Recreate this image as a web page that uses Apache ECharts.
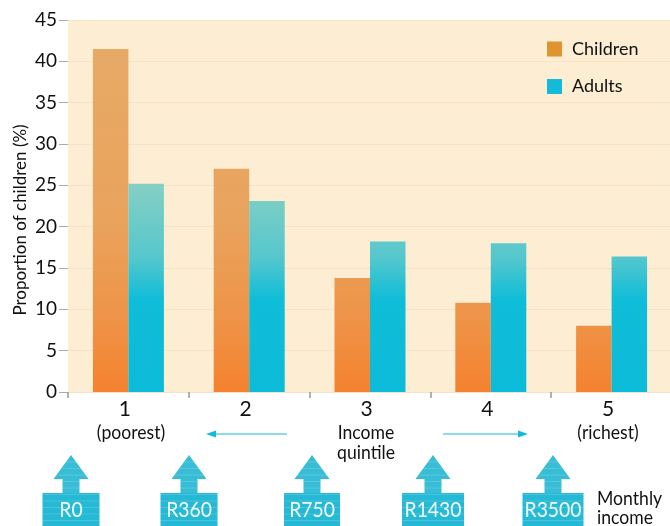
<!DOCTYPE html>
<html><head><meta charset="utf-8">
<style>html,body{margin:0;padding:0;background:#fff}#c{width:670px;height:526px}</style>
<script src="https://cdn.jsdelivr.net/npm/echarts@6/dist/echarts.min.js"></script>
</head><body><div id="c"></div>
<script>
const quintiles = ['1','2','3','4','5'];
const children = [41.5, 27, 13.8, 10.8, 8];
const adults = [25.2, 23.1, 18.2, 18, 16.4];
const yTicks = [0,5,10,15,20,25,30,35,40,45];
const incomes = ['R0','R360','R750','R1430','R3500'];
const FONT = 'Lato,"Liberation Sans",sans-serif';
const arrowX = [71,189,312,433,553];
const boxW = [57,57,56,62,61];

const chart = echarts.init(document.getElementById('c'), null, {renderer:'canvas'});
const grad = (y0,y1,stops)=>({type:'linear',global:true,x:0,y:y0,x2:0,y2:y1,
  colorStops:stops.map(s=>({offset:s[0],color:s[1]}))});

const graphics = [];
const LBL = {fill:'#111',font:'20px '+FONT};
function text(x,y,t,align){graphics.push({type:'text',x,y,scaleX:0.88,style:{text:t,...LBL,align:align||'center',verticalAlign:'middle'}});}
text(131,433,'(poorest)');
text(608,433,'(richest)');
text(366,433,'Income');
text(366,453,'quintile');
text(597,499,'Monthly','left');
text(597,518,'income','left');
// direction arrows
const CY='#12BAD8';
graphics.push({type:'line',shape:{x1:287,y1:434,x2:212,y2:434},style:{stroke:CY,lineWidth:1.2}});
graphics.push({type:'polygon',shape:{points:[[206,434],[216,430.5],[216,437.5]]},style:{fill:CY}});
graphics.push({type:'line',shape:{x1:443,y1:434,x2:520,y2:434},style:{stroke:CY,lineWidth:1.2}});
graphics.push({type:'polygon',shape:{points:[[528,434],[518,430.5],[518,437.5]]},style:{fill:CY}});
// income boxes with up arrows
incomes.forEach((lab,i)=>{
  const x=arrowX[i], w=boxW[i], l=x-w/2;
  const fill='#38BDD6';
  graphics.push({type:'polygon',shape:{points:[[x,455],[x+17.5,479],[x+8.5,479],[x+8.5,493],[x-8.5,493],[x-8.5,479],[x-17.5,479]]},style:{fill}});
  graphics.push({type:'rect',shape:{x:l,y:493,width:w,height:33},style:{fill:'#25B9D6'}});
  for(let y=462;y<526;y+=6.5){
    const half = y<479 ? (y-455)*17.5/24 : (y<493?8.5:w/2);
    graphics.push({type:'line',shape:{x1:x-half,y1:y,x2:x+half,y2:y},style:{stroke:'rgba(255,255,255,0.16)',lineWidth:1}});
  }
  graphics.push({type:'text',x:x,y:510,scaleX:0.92,style:{text:lab,fill:'#F2FBFD',font:'21px '+FONT,align:'center',verticalAlign:'middle'}});
});

chart.setOption({
  animation:false,
  backgroundColor:'#fff',
  grid:{left:68,width:604,top:20,height:372,outerBoundsMode:'none',backgroundColor:'#FDEDD2',show:true,borderWidth:0},
  legend:{
    left:542,top:35,orient:'vertical',icon:'rect',itemWidth:15,itemHeight:15,itemGap:19.5,
    textStyle:{fontFamily:FONT,fontSize:18,color:'#111',padding:[0,0,0,5]},
    data:[{name:'Children',itemStyle:{color:'#DF9430'}},{name:'Adults',itemStyle:{color:'#14BAD8'}}]
  },
  xAxis:{type:'category',data:quintiles,
    axisLine:{show:false},
    axisTick:{show:true,length:6,lineStyle:{color:'#999',width:1.5}},
    axisLabel:{fontFamily:FONT,fontSize:21,color:'#111',margin:7,padding:[0,7,0,0]},
    splitLine:{show:false}},
  yAxis:{type:'value',min:0,max:45,interval:5,
    name:'Proportion of children (%)',nameLocation:'middle',nameGap:39,nameMoveOverlap:false,
    nameTextStyle:{fontFamily:FONT,fontSize:17,color:'#111',padding:[0,28,0,0]},
    axisLine:{show:false},
    axisTick:{show:true,length:9,lineStyle:{color:'#aaa',width:1}},
    axisLabel:{fontFamily:FONT,fontSize:19,color:'#111',margin:11,
      formatter:v=>yTicks.includes(v)?String(v):''},
    splitLine:{show:true,lineStyle:{color:'#F5E3C6',width:1}}},
  series:[
    {name:'Children',type:'bar',data:children,barWidth:35.5,barGap:0,
      itemStyle:{color:grad(50,392,[[0,'#E6AA66'],[0.5,'#E9A35D'],[0.78,'#EE9448'],[1,'#F5822E']])}},
    {name:'Adults',type:'bar',data:adults,barWidth:35.5,barGap:0,
      itemStyle:{color:grad(185,392,[[0,'#85CFC4'],[0.35,'#55C7CD'],[0.55,'#10BDD8'],[1,'#0CBBD9']])}}
  ],
  graphic:graphics
});
</script></body></html>
